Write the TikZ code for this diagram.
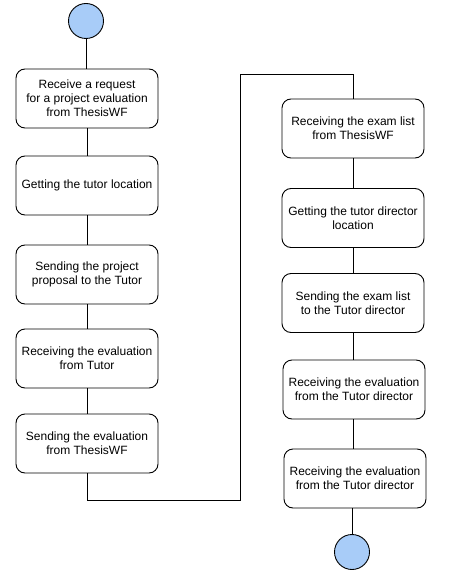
\documentclass[tikz,border=0pt]{standalone}
\usepackage{fontspec}
\setmainfont{Liberation Sans}
\definecolor{stateblue}{RGB}{168,204,248}
\begin{document}
\begin{tikzpicture}[x=1pt, y=-1pt,
    action/.style={draw, line width=0.9pt, rounded corners=9pt, minimum width=142pt, minimum height=59pt, align=center, inner sep=0pt, font=\fontsize{12}{14}\selectfont},
    state/.style={draw, line width=0.9pt, circle, fill=stateblue, minimum size=35pt, inner sep=0pt},
    flow/.style={line width=0.9pt}]
    \def\xl{87}
    \def\xr{353}
    \def\xm{240}
    \useasboundingbox (0,0) rectangle (455,588);

    % Left column
    \node[state] (start) at (\xl - 1, 21) {};
    \node[action] (l1) at (\xl, 98.5) {Receive a request\\for a project evaluation\\from ThesisWF};
    \node[action] (l2) at (\xl, 185.5) {Getting the tutor location};
    \node[action] (l3) at (\xl, 274.5) {Sending the project\\proposal to the Tutor};
    \node[action] (l4) at (\xl, 358.5) {Receiving the evaluation\\from Tutor};
    \node[action] (l5) at (\xl, 443.5) {Sending the evaluation\\from ThesisWF};

    % Right column
    \node[action] (r1) at (\xr, 128.5) {Receiving the exam list\\from ThesisWF};
    \node[action] (r2) at (\xr, 218) {Getting the tutor director\\location};
    \node[action] (r3) at (\xr, 303) {Sending the exam list\\to the Tutor director};
    \node[action] (r4) at (\xr + 1, 389.5) {Receiving the evaluation\\from the Tutor director};
    \node[action] (r5) at (\xr + 2, 478.5) {Receiving the evaluation\\from the Tutor director};
    \node[state] (end) at (\xr - 1, 552) {};

    % Jump between the columns
    \coordinate (down) at (\xl, 500);
    \coordinate (up) at (\xr, 74);

    \draw[flow] (start) -- (start |- l1.north);
    \draw[flow] (l1) -- (l2);
    \draw[flow] (l2) -- (l3);
    \draw[flow] (l3) -- (l4);
    \draw[flow] (l4) -- (l5);
    \draw[flow] (l5.south -| down) -- (down) -- (\xm, 500) -- (\xm, 74) -- (up) -- (up |- r1.north);
    \draw[flow] (r1) -- (r2);
    \draw[flow] (r2) -- (r3);
    \draw[flow] (r3.south) -- (r3.south |- r4.north);
    \draw[flow] (r4.south -| r3.south) -- (r3.south |- r5.north);
    \draw[flow] (r5.south -| end) -- (end);
\end{tikzpicture}
\end{document}
